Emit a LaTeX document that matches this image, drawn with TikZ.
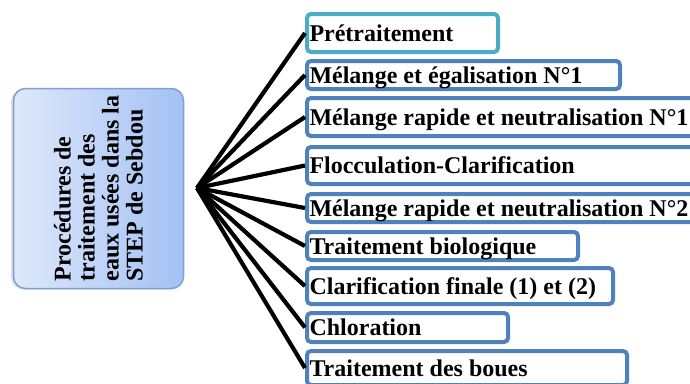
\documentclass[tikz,border=0pt]{standalone}
\usepackage{fontspec}
\setmainfont{Liberation Serif}
\usetikzlibrary{shadows}

\definecolor{stepblue}{RGB}{79,129,189}
\definecolor{stepcyan}{RGB}{75,172,198}
\definecolor{rootline}{RGB}{125,160,216}
\definecolor{rootlight}{RGB}{222,232,251}
\definecolor{rootdark}{RGB}{163,193,244}

\newcommand{\stepfont}{\fontsize{24}{24}\selectfont\bfseries}
% left-aligned label of fixed width inside a step box
\newcommand{\steptext}[2]{\makebox[#1][l]{#2}}

\tikzset{
  x=1pt, y=-1pt,
  stepbox/.style={draw=stepblue, line width=4pt, rounded corners=4pt, fill=white,
    anchor=north west, inner xsep=2.5pt, inner ysep=0pt,
    text height=16pt, text depth=0pt, font=\stepfont},
  rootbox/.style={draw=rootline, line width=1.5pt, rounded corners=12pt,
    rotate=90, left color=rootlight, right color=rootdark,
    minimum width=200pt, minimum height=170pt, align=left,
    font=\stepfont, inner sep=0pt,
    drop shadow={shadow xshift=-2.5pt, shadow yshift=-1pt, opacity=0.25}},
  fanline/.style={line width=4.2pt, black}
}

\begin{document}
\begin{tikzpicture}
\useasboundingbox (0,0) rectangle (690,383);
\clip (0,0) rectangle (690,383);

% central topic
\node[rootbox] (root) at (98.5,188.5)
  {Procédures de\\traitement des\\eaux usées dans la\\STEP de Sebdou};
\coordinate (hub) at (197,188);

% treatment steps
\node[stepbox, draw=stepcyan, minimum height=38pt] (s1) at (305,12) {\steptext{186pt}{Prétraitement}};
\node[stepbox, minimum height=28pt] (s2) at (305,59) {\steptext{308pt}{Mélange et égalisation N°1}};
\node[stepbox, minimum height=38pt] (s3) at (305,96) {\steptext{420pt}{Mélange rapide et neutralisation N°1}};
\node[stepbox, minimum height=37pt] (s4) at (305,145) {\steptext{420pt}{Flocculation-Clarification}};
\node[stepbox, minimum height=28pt] (s5) at (305,192) {\steptext{420pt}{Mélange rapide et neutralisation N°2}};
\node[stepbox, minimum height=28pt] (s6) at (305,230) {\steptext{266pt}{Traitement biologique}};
\node[stepbox, minimum height=36pt] (s7) at (305,266) {\steptext{301pt}{Clarification finale (1) et (2)}};
\node[stepbox, minimum height=29pt] (s8) at (305,311) {\steptext{196pt}{Chloration}};
\node[stepbox, minimum height=34pt] (s9) at (305,349) {\steptext{315pt}{Traitement des boues}};

% fan of connectors
\foreach \s in {s1,s2,s3,s4,s5,s6,s7,s8,s9}
  \draw[fanline] (hub) -- (\s.west);
\end{tikzpicture}
\end{document}
